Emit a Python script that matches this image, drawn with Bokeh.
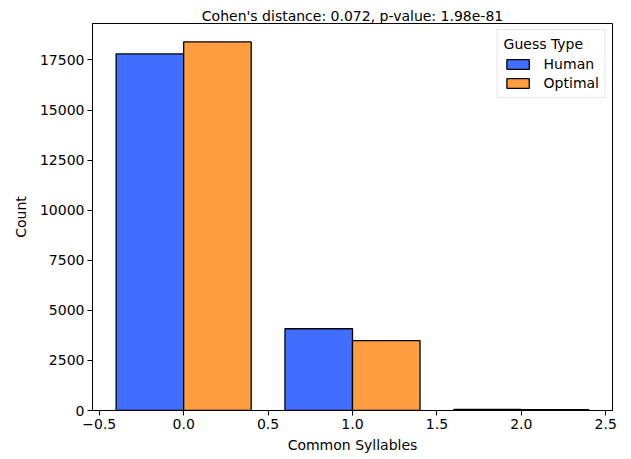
from bokeh.plotting import figure
from bokeh.models import ColumnDataSource, FixedTicker, Range1d, Legend, LegendItem
from bokeh.transform import dodge
from bokeh.embed import file_html
from bokeh.resources import INLINE

categories = [0, 1, 2]
human = [17800, 4080, 60]
optimal = [18400, 3490, 40]
series_names = ["Human", "Optimal"]
x_ticks = [-0.5, 0.0, 0.5, 1.0, 1.5, 2.0, 2.5]
x_tick_labels = ["\u22120.5", "0.0", "0.5", "1.0", "1.5", "2.0", "2.5"]
y_ticks = [0, 2500, 5000, 7500, 10000, 12500, 15000, 17500]
title_text = "Cohen's distance: 0.072, p-value: 1.98e-81"

FONT = "DejaVu Sans"
FS = "14px"
src = ColumnDataSource(dict(x=categories, human=human, optimal=optimal))

p = figure(width=623, height=457, output_backend="svg", toolbar_location=None,
           x_range=Range1d(-0.54, 2.54), y_range=Range1d(0, 19320),
           min_border_left=92, min_border_right=11, min_border_bottom=47, min_border_top=23)

p.title.text = title_text
p.title.align = "center"
p.title.text_font = FONT
p.title.text_font_size = FS
p.title.text_font_style = "normal"
p.title.text_color = "black"
p.title.standoff = 0
p.title.offset = 0

r1 = p.vbar(x=dodge("x", -0.2, range=p.x_range), top="human", width=0.4, source=src,
            fill_color="#416EFF", line_color="black", line_width=1.3)
r2 = p.vbar(x=dodge("x", 0.2, range=p.x_range), top="optimal", width=0.4, source=src,
            fill_color="#FF9D40", line_color="black", line_width=1.3)

p.xgrid.visible = False
p.ygrid.visible = False
p.outline_line_color = "black"
p.outline_line_width = 1

p.xaxis.ticker = FixedTicker(ticks=x_ticks)
p.xaxis.major_label_overrides = {t: l for t, l in zip(x_ticks, x_tick_labels)}
p.yaxis.ticker = FixedTicker(ticks=y_ticks)
for ax in (p.xaxis[0], p.yaxis[0]):
    ax.major_tick_in = 0
    ax.major_tick_out = 5
    ax.minor_tick_in = 0
    ax.minor_tick_out = 0
    ax.major_label_text_font = FONT
    ax.major_label_text_font_size = FS
    ax.major_label_text_color = "black"
    ax.axis_label_text_font = FONT
    ax.axis_label_text_font_size = FS
    ax.axis_label_text_font_style = "normal"
    ax.axis_label_text_color = "black"
    ax.axis_line_color = "black"
    ax.major_tick_line_color = "black"
p.xaxis.axis_label = "Common Syllables"
p.yaxis.axis_label = "Count"
p.xaxis.major_label_standoff = 3
p.yaxis.major_label_standoff = 3
p.xaxis.axis_label_standoff = 5
p.yaxis.axis_label_standoff = 8

legend = Legend(items=[LegendItem(label=series_names[0], renderers=[r1]),
                       LegendItem(label=series_names[1], renderers=[r2])],
                location="top_right", title="Guess Type")
legend.title_text_font = FONT
legend.title_text_font_size = FS
legend.title_text_font_style = "normal"
legend.title_text_color = "black"
legend.title_standoff = 4
legend.label_text_font = FONT
legend.label_text_font_size = FS
legend.label_text_color = "black"
legend.glyph_width = 28
legend.glyph_height = 12
legend.label_standoff = 12
legend.spacing = 3
legend.padding = 6
legend.margin = 6
legend.border_line_color = "#cccccc"
legend.border_line_width = 1
legend.background_fill_alpha = 0.8
p.add_layout(legend)

open("out.html", "w").write(file_html(p, INLINE))
